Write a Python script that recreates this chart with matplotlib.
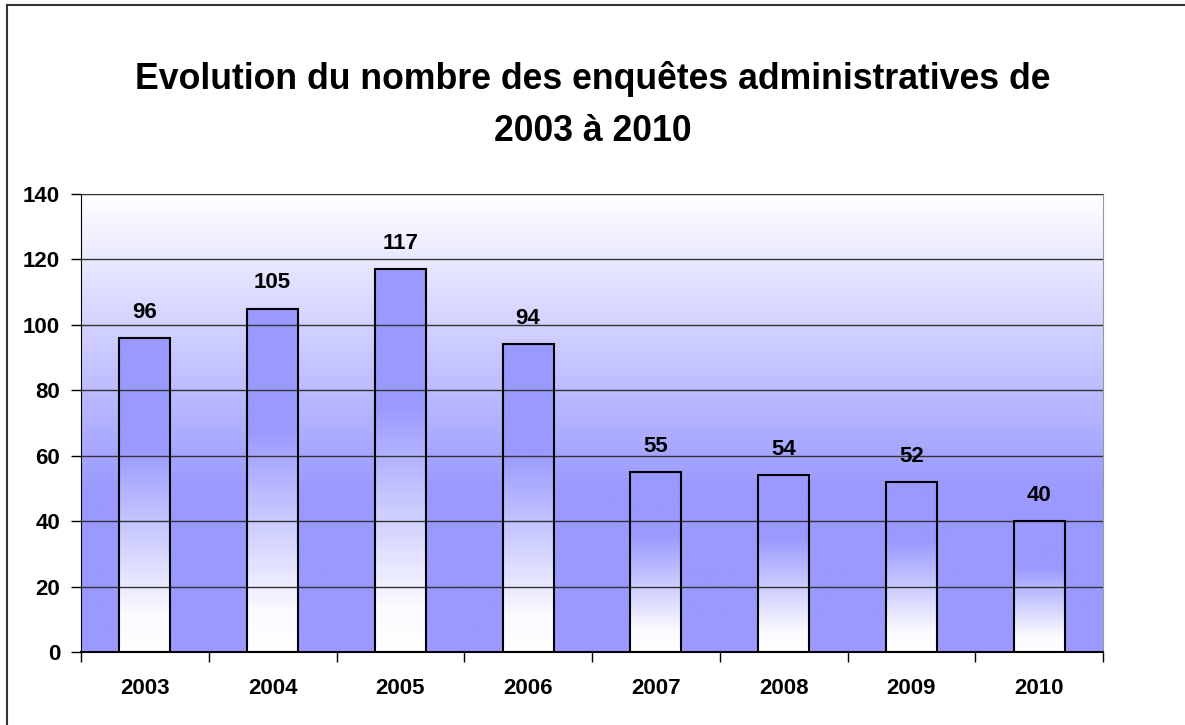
import numpy as np
import matplotlib
matplotlib.use("Agg")
import matplotlib.pyplot as plt
from matplotlib.lines import Line2D
from matplotlib.colors import LinearSegmentedColormap

years = ["2003", "2004", "2005", "2006", "2007", "2008", "2009", "2010"]
counts = [96, 105, 117, 94, 55, 54, 52, 40]
yticks = [0, 20, 40, 60, 80, 100, 120, 140]
title = "Evolution du nombre des enquêtes administratives de\n2003 à 2010"

plt.rcParams['font.family'] = ['Liberation Sans', 'DejaVu Sans']
fig = plt.figure(figsize=(11.85, 7.25), dpi=100)
ax = fig.add_axes([81/1185, 1 - 652/725, (1103-81)/1185, (652-194)/725])

blue = (153/255, 153/255, 1.0)
# background gradient (white at top -> blue toward bottom)
bg_cmap = LinearSegmentedColormap.from_list("bg", [(0, blue), (0.35, blue), (1.0, "white")])
grad = np.linspace(0, 1, 256).reshape(-1, 1)
ax.imshow(grad, cmap=bg_cmap, aspect="auto", origin="lower",
          extent=[0, 1, 0, 1], transform=ax.transAxes, zorder=0)

x = np.arange(len(years))
bars = ax.bar(x, counts, width=0.4, facecolor="none", edgecolor="black",
              linewidth=1.5, zorder=3)
bar_cmap = LinearSegmentedColormap.from_list("bar", [(0, "white"), (0.12, (0.98, 0.98, 1.0)), (0.65, blue), (1.0, blue)])
for b in bars:
    x0, y0 = b.get_x(), b.get_y()
    w, h = b.get_width(), b.get_height()
    ax.imshow(grad, cmap=bar_cmap, aspect="auto", origin="lower",
              extent=[x0, x0 + w, y0, y0 + h], zorder=2)
    ax.annotate(str(int(h)), (x0 + w / 2, y0 + h), xytext=(0, 18.5),
                textcoords="offset points", ha="center", va="center",
                fontsize=16, fontweight="bold", zorder=4)

ax.set_xlim(-0.5, len(years) - 0.5)
ax.set_ylim(0, 140)
ax.set_yticks(yticks)
ax.set_yticklabels([str(v) for v in yticks], fontsize=16, fontweight="bold")
ax.set_xticks(x)
ax.set_xticklabels(years, fontsize=16, fontweight="bold")
ax.tick_params(axis="x", length=0, pad=19)
ax.tick_params(axis="y", length=7, width=1, direction="out", pad=8)
# category boundary ticks
ax.set_xticks(np.arange(-0.5, len(years)), minor=True)
ax.tick_params(axis="x", which="minor", length=7, width=1, direction="out")
ax.yaxis.grid(True, color="#333333", linewidth=1, zorder=1)
ax.set_axisbelow(False)
for gl in ax.get_ygridlines():
    gl.set_zorder(1)
ax.spines["left"].set_color("black")
ax.spines["bottom"].set_color("black")
ax.spines["bottom"].set_linewidth(1.5)
ax.spines["top"].set_color("#777777")
ax.spines["right"].set_color("#999999")

fig.text(0.5, 1 - 105/725, title, ha="center", va="center", fontsize=25.7,
         fontweight="bold", linespacing=1.6)

# figure border (top and left)
fig.add_artist(Line2D([7/1185, 7/1185], [0, 1 - 5/725], transform=fig.transFigure,
                      color="#333333", linewidth=1.5))
fig.add_artist(Line2D([7/1185, 1], [1 - 5/725, 1 - 5/725], transform=fig.transFigure,
                      color="#333333", linewidth=1.5))

fig.savefig("out.png", dpi=100)
